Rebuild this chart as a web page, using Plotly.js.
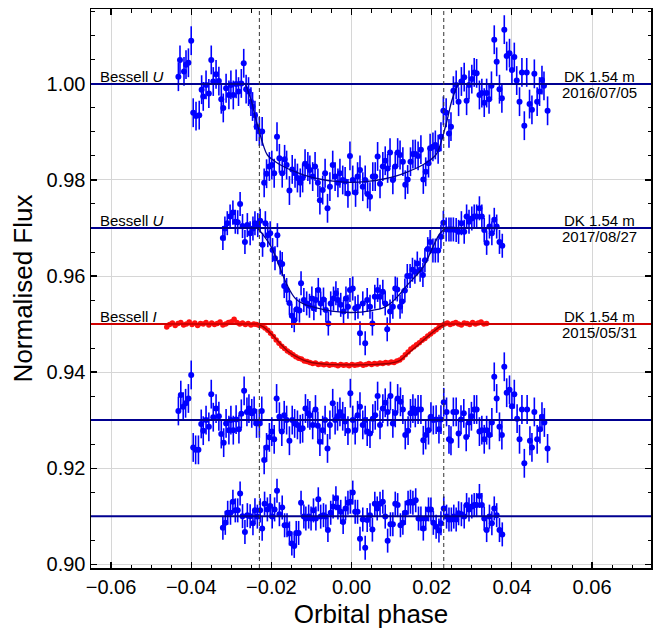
<!DOCTYPE html>
<html><head><meta charset="utf-8">
<script src="https://cdn.plot.ly/plotly-3.0.1.min.js"></script>
<style>html,body{margin:0;padding:0;background:#fff}</style>
</head><body><div id="chart" style="width:664px;height:631px"></div>
<script>
// ---- 2016/07/05 Bessell U light curve (baseline 1.00)
const u16X = [-0.0432,-0.0428,-0.0418,-0.0413,-0.0407,-0.0400,-0.0395,-0.0388,-0.0380,-0.0374,-0.0370,-0.0363,-0.0356,-0.0350,-0.0345,-0.0338,-0.0331,-0.0325,-0.0320,-0.0313,-0.0306,-0.0301,-0.0295,-0.0288,-0.0282,-0.0275,-0.0269,-0.0263,-0.0257,-0.0251,-0.0247,-0.0241,-0.0237,-0.0230,-0.0223,-0.0218,-0.0212,-0.0205,-0.0199,-0.0193,-0.0186,-0.0180,-0.0173,-0.0167,-0.0162,-0.0155,-0.0148,-0.0141,-0.0135,-0.0128,-0.0122,-0.0116,-0.0109,-0.0104,-0.0097,-0.0091,-0.0084,-0.0079,-0.0072,-0.0066,-0.0060,-0.0054,-0.0047,-0.0041,-0.0034,-0.0029,-0.0022,-0.0016,-0.0009,-0.0004,0.0003,0.0010,0.0015,0.0021,0.0028,0.0034,0.0040,0.0046,0.0053,0.0059,0.0065,0.0071,0.0078,0.0084,0.0090,0.0096,0.0103,0.0109,0.0115,0.0121,0.0128,0.0134,0.0140,0.0147,0.0153,0.0159,0.0166,0.0173,0.0179,0.0185,0.0192,0.0196,0.0203,0.0209,0.0216,0.0223,0.0229,0.0236,0.0243,0.0248,0.0254,0.0261,0.0267,0.0274,0.0281,0.0287,0.0293,0.0300,0.0306,0.0312,0.0319,0.0325,0.0331,0.0337,0.0343,0.0349,0.0356,0.0362,0.0369,0.0375,0.0381,0.0387,0.0394,0.0400,0.0406,0.0412,0.0419,0.0425,0.0431,0.0437,0.0444,0.0450,0.0456,0.0463,0.0469,0.0475,0.0480,0.0489];
const u16Y = [1.0015,1.0050,1.0026,1.0040,1.0044,1.0090,0.9940,0.9933,0.9935,0.9988,0.9974,0.9998,0.9980,1.0050,1.0005,1.0020,1.0006,0.9968,0.9950,0.9991,0.9977,0.9998,0.9977,1.0000,0.9984,1.0001,1.0043,0.9989,0.9984,0.9963,0.9953,0.9935,0.9911,0.9901,0.9901,0.9794,0.9813,0.9828,0.9831,0.9814,0.9890,0.9845,0.9814,0.9843,0.9831,0.9778,0.9822,0.9814,0.9804,0.9794,0.9804,0.9834,0.9828,0.9821,0.9807,0.9828,0.9794,0.9758,0.9779,0.9814,0.9741,0.9786,0.9831,0.9807,0.9794,0.9814,0.9800,0.9797,0.9772,0.9850,0.9800,0.9774,0.9807,0.9821,0.9786,0.9800,0.9771,0.9765,0.9807,0.9807,0.9849,0.9792,0.9828,0.9840,0.9824,0.9857,0.9800,0.9828,0.9857,0.9852,0.9838,0.9790,0.9801,0.9838,0.9854,0.9854,0.9850,0.9863,0.9801,0.9817,0.9835,0.9866,0.9869,0.9873,0.9864,0.9890,0.9944,0.9940,0.9897,0.9911,0.9986,0.9998,0.9963,1.0005,1.0014,0.9965,0.9998,1.0010,1.0024,1.0022,0.9977,0.9981,0.9961,0.9981,0.9968,0.9996,1.0092,1.0046,0.9989,0.9970,1.0113,1.0058,1.0064,1.0029,1.0056,1.0007,0.9963,1.0024,0.9913,1.0024,0.9958,0.9946,1.0021,0.9963,0.9984,1.0008,0.9996,0.9944];
const fit16X = [-0.0265,-0.025,-0.024,-0.023,-0.022,-0.021,-0.019,-0.017,-0.014,-0.011,-0.008,-0.004,0,0.004,0.008,0.011,0.014,0.017,0.019,0.021,0.022,0.023,0.024,0.025,0.0265];
const fit16Y = [1.0000,0.9965,0.9930,0.9900,0.9872,0.9852,0.9838,0.9828,0.9817,0.9808,0.9802,0.9797,0.9795,0.9797,0.9802,0.9808,0.9817,0.9828,0.9838,0.9852,0.9870,0.9898,0.9930,0.9965,1.0000];

// ---- 2017/08/27 Bessell U light curve (baseline 0.97)
const u17X = [-0.0321,-0.0316,-0.0310,-0.0303,-0.0296,-0.0290,-0.0284,-0.0278,-0.0272,-0.0266,-0.0260,-0.0253,-0.0246,-0.0241,-0.0234,-0.0228,-0.0222,-0.0215,-0.0209,-0.0203,-0.0197,-0.0191,-0.0185,-0.0178,-0.0173,-0.0168,-0.0162,-0.0155,-0.0149,-0.0143,-0.0137,-0.0130,-0.0126,-0.0119,-0.0112,-0.0105,-0.0099,-0.0094,-0.0089,-0.0083,-0.0077,-0.0070,-0.0064,-0.0058,-0.0052,-0.0045,-0.0039,-0.0034,-0.0027,-0.0020,-0.0014,-0.0009,-0.0004,0.0003,0.0009,0.0016,0.0021,0.0028,0.0034,0.0039,0.0046,0.0052,0.0058,0.0065,0.0071,0.0078,0.0084,0.0089,0.0096,0.0103,0.0109,0.0114,0.0121,0.0126,0.0133,0.0139,0.0146,0.0152,0.0158,0.0164,0.0171,0.0178,0.0183,0.0190,0.0196,0.0203,0.0209,0.0216,0.0223,0.0229,0.0236,0.0243,0.0248,0.0254,0.0261,0.0267,0.0274,0.0281,0.0287,0.0293,0.0300,0.0306,0.0312,0.0319,0.0325,0.0331,0.0337,0.0344,0.0350,0.0356,0.0362,0.0369,0.0376];
const u17Y = [0.9679,0.9699,0.9710,0.9724,0.9732,0.9713,0.9712,0.9750,0.9704,0.9671,0.9706,0.9689,0.9699,0.9710,0.9706,0.9715,0.9665,0.9710,0.9685,0.9689,0.9654,0.9637,0.9685,0.9628,0.9625,0.9579,0.9571,0.9544,0.9517,0.9508,0.9531,0.9528,0.9585,0.9550,0.9543,0.9538,0.9553,0.9533,0.9550,0.9571,0.9543,0.9551,0.9529,0.9501,0.9543,0.9553,0.9564,0.9550,0.9540,0.9526,0.9553,0.9536,0.9571,0.9574,0.9533,0.9536,0.9481,0.9543,0.9460,0.9550,0.9536,0.9501,0.9557,0.9571,0.9557,0.9567,0.9543,0.9489,0.9526,0.9536,0.9574,0.9572,0.9536,0.9547,0.9570,0.9600,0.9600,0.9613,0.9609,0.9626,0.9613,0.9602,0.9633,0.9656,0.9671,0.9653,0.9653,0.9653,0.9682,0.9711,0.9697,0.9697,0.9697,0.9697,0.9696,0.9692,0.9710,0.9692,0.9724,0.9713,0.9720,0.9724,0.9724,0.9741,0.9724,0.9696,0.9669,0.9703,0.9689,0.9717,0.9703,0.9671,0.9663];
const fit17X = [-0.0235,-0.022,-0.020,-0.018,-0.016,-0.014,-0.012,-0.009,-0.005,0,0.005,0.008,0.010,0.012,0.014,0.016,0.018,0.020,0.022,0.0235];
const fit17Y = [0.9700,0.9685,0.9660,0.9620,0.9580,0.9553,0.9542,0.9534,0.9527,0.9524,0.9528,0.9534,0.9545,0.9562,0.9582,0.9600,0.9620,0.9655,0.9688,0.9700];

// ---- 2015/05/31 Bessell I light curve (baseline 0.95)
const i15X = [-0.0461,-0.0454,-0.0447,-0.0440,-0.0433,-0.0426,-0.0419,-0.0412,-0.0405,-0.0398,-0.0391,-0.0384,-0.0377,-0.0370,-0.0363,-0.0356,-0.0349,-0.0342,-0.0335,-0.0328,-0.0321,-0.0314,-0.0307,-0.0300,-0.0293,-0.0286,-0.0279,-0.0272,-0.0265,-0.0258,-0.0251,-0.0244,-0.0237,-0.0230,-0.0223,-0.0216,-0.0209,-0.0202,-0.0195,-0.0188,-0.0181,-0.0174,-0.0167,-0.0160,-0.0153,-0.0146,-0.0139,-0.0132,-0.0125,-0.0118,-0.0111,-0.0104,-0.0097,-0.0090,-0.0083,-0.0076,-0.0069,-0.0062,-0.0055,-0.0048,-0.0041,-0.0034,-0.0027,-0.0020,-0.0013,-0.0006,0.0001,0.0008,0.0015,0.0022,0.0029,0.0036,0.0043,0.0050,0.0057,0.0064,0.0071,0.0078,0.0085,0.0092,0.0099,0.0106,0.0113,0.0120,0.0127,0.0134,0.0141,0.0148,0.0155,0.0162,0.0169,0.0176,0.0183,0.0190,0.0197,0.0204,0.0211,0.0218,0.0225,0.0232,0.0239,0.0246,0.0253,0.0260,0.0267,0.0274,0.0281,0.0288,0.0295,0.0302,0.0309,0.0316,0.0323,0.0330,0.0337];
const i15Y = [0.9494,0.9499,0.9502,0.9497,0.9501,0.9503,0.9498,0.9500,0.9504,0.9499,0.9502,0.9497,0.9501,0.9500,0.9503,0.9498,0.9502,0.9499,0.9501,0.9504,0.9498,0.9500,0.9503,0.9505,0.9510,0.9503,0.9500,0.9502,0.9499,0.9501,0.9498,0.9500,0.9499,0.9497,0.9496,0.9492,0.9487,0.9481,0.9474,0.9467,0.9460,0.9454,0.9449,0.9444,0.9440,0.9436,0.9432,0.9429,0.9427,0.9423,0.9422,0.9420,0.9418,0.9419,0.9416,0.9417,0.9415,0.9417,0.9414,0.9416,0.9415,0.9413,0.9416,0.9414,0.9415,0.9413,0.9416,0.9414,0.9415,0.9417,0.9414,0.9416,0.9418,0.9416,0.9418,0.9417,0.9419,0.9418,0.9420,0.9419,0.9421,0.9420,0.9423,0.9425,0.9430,0.9436,0.9442,0.9448,0.9452,0.9457,0.9461,0.9466,0.9470,0.9475,0.9479,0.9484,0.9488,0.9493,0.9497,0.9500,0.9502,0.9499,0.9501,0.9503,0.9500,0.9498,0.9502,0.9501,0.9499,0.9503,0.9500,0.9502,0.9504,0.9500,0.9501];
const fit15X = [-0.0235,-0.022,-0.020,-0.018,-0.016,-0.014,-0.012,-0.010,-0.006,0,0.006,0.010,0.012,0.014,0.016,0.018,0.020,0.022,0.0235];
const fit15Y = [0.9500,0.9494,0.9479,0.9461,0.9444,0.9433,0.9425,0.9420,0.9416,0.9415,0.9416,0.9419,0.9424,0.9438,0.9452,0.9467,0.9481,0.9494,0.9500];

// ---- residuals 2016/07/05 (offset 0.93)
const r16X = [-0.0432,-0.0426,-0.0420,-0.0414,-0.0407,-0.0400,-0.0395,-0.0389,-0.0382,-0.0375,-0.0370,-0.0363,-0.0356,-0.0350,-0.0345,-0.0338,-0.0331,-0.0325,-0.0319,-0.0313,-0.0306,-0.0301,-0.0295,-0.0288,-0.0281,-0.0275,-0.0268,-0.0261,-0.0256,-0.0249,-0.0243,-0.0237,-0.0230,-0.0224,-0.0218,-0.0212,-0.0205,-0.0199,-0.0193,-0.0187,-0.0180,-0.0174,-0.0168,-0.0162,-0.0155,-0.0148,-0.0142,-0.0135,-0.0128,-0.0122,-0.0115,-0.0109,-0.0104,-0.0097,-0.0090,-0.0084,-0.0079,-0.0072,-0.0066,-0.0060,-0.0054,-0.0047,-0.0041,-0.0035,-0.0029,-0.0022,-0.0016,-0.0009,-0.0003,0.0003,0.0009,0.0015,0.0021,0.0028,0.0034,0.0039,0.0046,0.0053,0.0059,0.0065,0.0071,0.0078,0.0084,0.0090,0.0097,0.0103,0.0109,0.0115,0.0122,0.0128,0.0134,0.0141,0.0147,0.0153,0.0159,0.0166,0.0173,0.0179,0.0185,0.0192,0.0198,0.0204,0.0211,0.0218,0.0223,0.0230,0.0237,0.0243,0.0248,0.0254,0.0261,0.0267,0.0273,0.0280,0.0286,0.0293,0.0299,0.0306,0.0312,0.0319,0.0325,0.0331,0.0337,0.0344,0.0350,0.0356,0.0362,0.0369,0.0375,0.0381,0.0387,0.0394,0.0400,0.0406,0.0413,0.0419,0.0425,0.0431,0.0438,0.0445,0.0450,0.0456,0.0463,0.0470,0.0475,0.0481,0.0489];
const r16Y = [0.9319,0.9352,0.9328,0.9335,0.9345,0.9394,0.9243,0.9238,0.9238,0.9292,0.9278,0.9300,0.9286,0.9354,0.9306,0.9324,0.9308,0.9271,0.9253,0.9293,0.9279,0.9300,0.9279,0.9301,0.9281,0.9313,0.9361,0.9317,0.9324,0.9314,0.9319,0.9293,0.9293,0.9319,0.9217,0.9243,0.9264,0.9276,0.9260,0.9345,0.9307,0.9276,0.9310,0.9300,0.9257,0.9300,0.9293,0.9290,0.9281,0.9283,0.9324,0.9314,0.9310,0.9290,0.9322,0.9288,0.9255,0.9279,0.9300,0.9241,0.9290,0.9335,0.9300,0.9308,0.9317,0.9308,0.9297,0.9278,0.9356,0.9300,0.9279,0.9310,0.9328,0.9290,0.9300,0.9276,0.9272,0.9303,0.9310,0.9350,0.9290,0.9324,0.9336,0.9317,0.9350,0.9293,0.9315,0.9345,0.9338,0.9322,0.9269,0.9278,0.9314,0.9324,0.9315,0.9322,0.9322,0.9258,0.9269,0.9279,0.9307,0.9300,0.9301,0.9281,0.9301,0.9337,0.9317,0.9260,0.9257,0.9317,0.9317,0.9272,0.9301,0.9314,0.9265,0.9295,0.9308,0.9322,0.9322,0.9276,0.9279,0.9260,0.9279,0.9269,0.9295,0.9390,0.9345,0.9286,0.9269,0.9411,0.9357,0.9363,0.9329,0.9354,0.9303,0.9260,0.9322,0.9210,0.9322,0.9257,0.9243,0.9317,0.9260,0.9281,0.9307,0.9295,0.9241];

// ---- residuals 2017/08/27 (offset 0.91)
const r17X = [-0.0321,-0.0315,-0.0309,-0.0302,-0.0296,-0.0290,-0.0284,-0.0278,-0.0272,-0.0266,-0.0260,-0.0253,-0.0246,-0.0241,-0.0235,-0.0228,-0.0223,-0.0217,-0.0210,-0.0203,-0.0198,-0.0192,-0.0186,-0.0180,-0.0173,-0.0167,-0.0161,-0.0155,-0.0149,-0.0143,-0.0138,-0.0132,-0.0126,-0.0119,-0.0114,-0.0107,-0.0101,-0.0095,-0.0089,-0.0083,-0.0077,-0.0070,-0.0064,-0.0059,-0.0052,-0.0046,-0.0039,-0.0034,-0.0027,-0.0021,-0.0015,-0.0009,-0.0003,0.0003,0.0009,0.0015,0.0021,0.0028,0.0034,0.0039,0.0046,0.0052,0.0058,0.0064,0.0071,0.0078,0.0084,0.0090,0.0097,0.0103,0.0109,0.0115,0.0122,0.0128,0.0134,0.0141,0.0147,0.0153,0.0160,0.0167,0.0173,0.0179,0.0185,0.0192,0.0198,0.0204,0.0211,0.0218,0.0223,0.0230,0.0237,0.0243,0.0249,0.0255,0.0261,0.0267,0.0274,0.0281,0.0287,0.0293,0.0300,0.0306,0.0312,0.0319,0.0325,0.0331,0.0337,0.0344,0.0350,0.0356,0.0362,0.0369,0.0376];
const r17Y = [0.9076,0.9086,0.9107,0.9107,0.9130,0.9112,0.9112,0.9147,0.9100,0.9067,0.9102,0.9100,0.9085,0.9112,0.9099,0.9112,0.9074,0.9126,0.9114,0.9121,0.9099,0.9114,0.9153,0.9104,0.9118,0.9081,0.9081,0.9064,0.9043,0.9038,0.9065,0.9065,0.9128,0.9099,0.9095,0.9099,0.9095,0.9112,0.9095,0.9135,0.9099,0.9102,0.9099,0.9071,0.9107,0.9120,0.9137,0.9118,0.9109,0.9088,0.9116,0.9128,0.9130,0.9149,0.9109,0.9109,0.9053,0.9093,0.9034,0.9092,0.9102,0.9072,0.9126,0.9116,0.9126,0.9130,0.9099,0.9049,0.9083,0.9083,0.9126,0.9123,0.9081,0.9086,0.9107,0.9128,0.9130,0.9128,0.9133,0.9095,0.9095,0.9074,0.9095,0.9114,0.9114,0.9086,0.9078,0.9070,0.9085,0.9116,0.9099,0.9093,0.9093,0.9099,0.9093,0.9106,0.9104,0.9099,0.9123,0.9114,0.9120,0.9123,0.9123,0.9142,0.9123,0.9095,0.9071,0.9099,0.9085,0.9116,0.9102,0.9071,0.9062];

// ---- reference levels, contact phases, labels
const baselines = [1.00, 0.97, 0.95, 0.93, 0.91];
const contactPhases = [-0.023, 0.023];
const filterLabels = ['Bessell <i>U</i>', 'Bessell <i>U</i>', 'Bessell <i>I</i>'];
const filterLevels = [1.00, 0.97, 0.95];
const telescopeLabels = ['DK 1.54 m', 'DK 1.54 m', 'DK 1.54 m'];
const dateLabels = ['2016/07/05', '2017/08/27', '2015/05/31'];
const xTicks = [-0.06, -0.04, -0.02, 0.00, 0.02, 0.04, 0.06];
const yTicks = [0.90, 0.92, 0.94, 0.96, 0.98, 1.00];

const BLUE = '#0000ff', NAVY = '#000090', RED = '#ff1010', DRED = '#9a0000';

function ptsTrace(x, y, err) {
  return {x, y, type: 'scatter', mode: 'markers',
    marker: {color: BLUE, size: 6},
    error_y: {type: 'constant', value: err, visible: true, color: BLUE, thickness: 1.6, width: 0},
    hoverinfo: 'skip'};
}
function fitTrace(x, y, col, w) {
  return {x, y, type: 'scatter', mode: 'lines',
    line: {color: col, width: w, shape: 'spline', smoothing: 1}, hoverinfo: 'skip'};
}

const traces = [
  ptsTrace(u16X, u16Y, 0.003),
  ptsTrace(u17X, u17Y, 0.0025),
  ptsTrace(r16X, r16Y, 0.003),
  ptsTrace(r17X, r17Y, 0.0025),
  {x: i15X, y: i15Y, type: 'scatter', mode: 'markers', marker: {color: RED, size: 5.5}, hoverinfo: 'skip'},
  fitTrace(fit16X, fit16Y, NAVY, 1.3),
  fitTrace(fit17X, fit17Y, NAVY, 1.3),
  fitTrace(fit15X, fit15Y, DRED, 1.4)
];

const shapes = [];
baselines.forEach((b, i) => {
  shapes.push({type: 'line', xref: 'paper', x0: 0, x1: 1, yref: 'y', y0: b, y1: b,
    line: {color: i === 2 ? '#d00000' : NAVY, width: 2}, layer: 'above'});
});
contactPhases.forEach(c => {
  shapes.push({type: 'line', xref: 'x', x0: c, x1: c, yref: 'paper', y0: 0, y1: 1,
    line: {color: '#333333', width: 1, dash: '4px,3px'}, layer: 'above'});
});

const annFont = {family: 'Liberation Sans, Arial, sans-serif', size: 15, color: '#000'};
const annotations = [];
filterLevels.forEach((lv, i) => {
  annotations.push({x: -0.0632, y: lv, xref: 'x', yref: 'y', text: filterLabels[i],
    showarrow: false, xanchor: 'left', yanchor: 'bottom', font: annFont, yshift: -3});
  annotations.push({x: 0.0618, y: lv, xref: 'x', yref: 'y', text: telescopeLabels[i],
    showarrow: false, xanchor: 'center', yanchor: 'bottom', font: annFont, yshift: -3});
  annotations.push({x: 0.0618, y: lv, xref: 'x', yref: 'y', text: dateLabels[i],
    showarrow: false, xanchor: 'center', yanchor: 'top', font: annFont, yshift: 2});
});

const tickFont = {family: 'Liberation Sans, Arial, sans-serif', size: 20, color: '#000'};
const titleFont = {family: 'Liberation Sans, Arial, sans-serif', size: 26, color: '#000'};

const axisCommon = {
  showline: true, linecolor: '#000', linewidth: 1.5, mirror: 'allticks',
  ticks: 'inside', ticklen: 6, tickwidth: 1.2, tickcolor: '#000',
  showgrid: true, gridcolor: '#d6d6d6', gridwidth: 1, zeroline: false,
  tickfont: tickFont, tickformat: '.2f'
};

const layout = {
  width: 664, height: 631,
  margin: {l: 91, r: 13, t: 9, b: 63},
  paper_bgcolor: '#fff', plot_bgcolor: '#fff',
  showlegend: false, hovermode: false,
  xaxis: Object.assign({}, axisCommon, {
    range: [-0.065, 0.0747], tickvals: xTicks,
    minor: {dtick: 0.005, ticks: 'inside', ticklen: 3.5, tickcolor: '#000', tickwidth: 1, showgrid: false},
    title: {text: 'Orbital phase', font: titleFont, standoff: 8}
  }),
  yaxis: Object.assign({}, axisCommon, {
    range: [0.8992, 1.0156], tickvals: yTicks,
    minor: {dtick: 0.005, ticks: 'inside', ticklen: 3.5, tickcolor: '#000', tickwidth: 1, showgrid: false},
    title: {text: 'Normalised Flux', font: titleFont, standoff: 6}
  }),
  shapes, annotations
};

Plotly.newPlot('chart', traces, layout, {displayModeBar: false, staticPlot: true});
</script></body></html>
